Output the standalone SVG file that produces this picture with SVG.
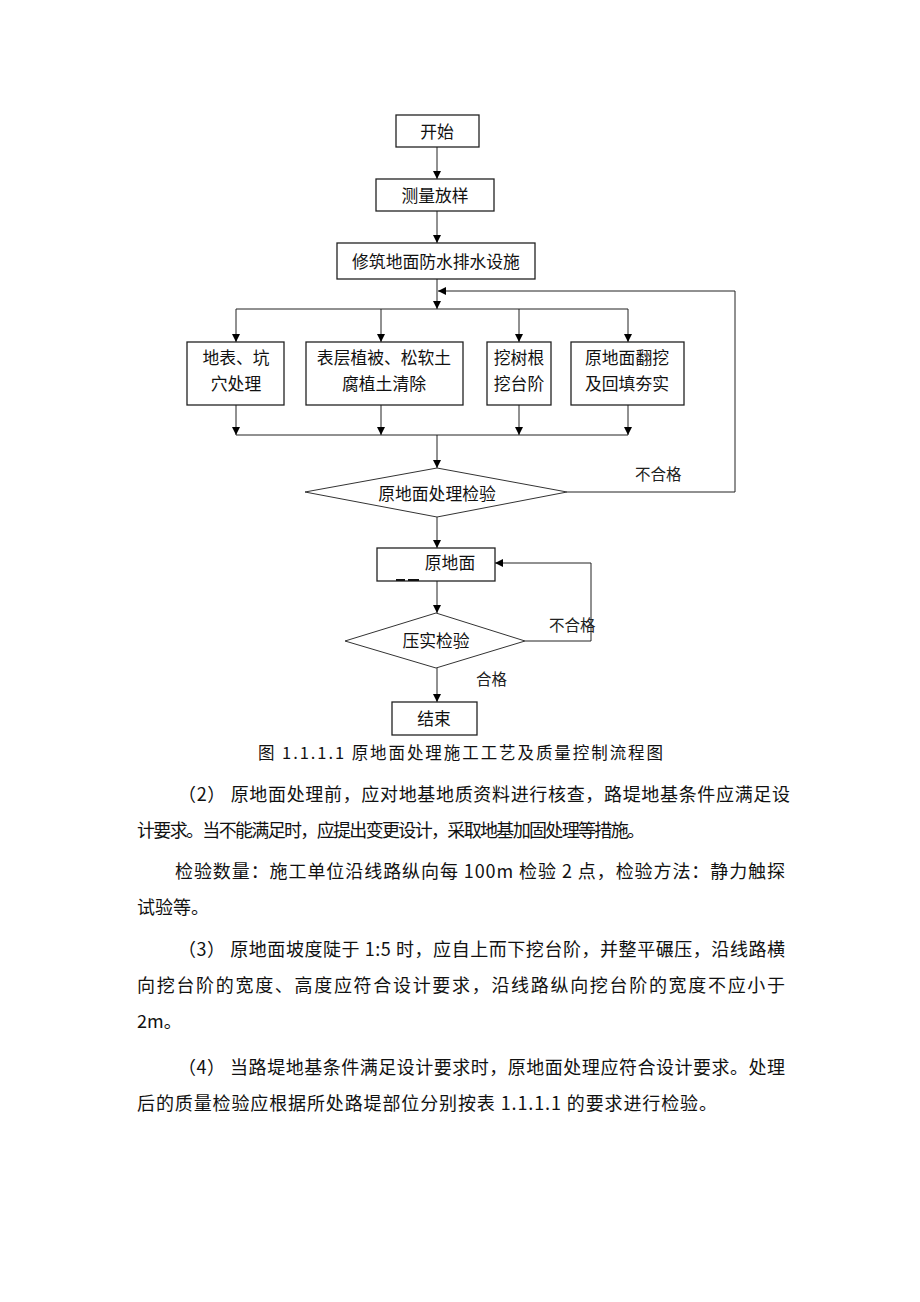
<svg xmlns="http://www.w3.org/2000/svg" width="920" height="1302" viewBox="0 0 920 1302">
<style>
.box{fill:#fff;stroke:#222;stroke-width:1.3}
.dia{fill:#fff;stroke:#333;stroke-width:1}
.ln{fill:none;stroke:#222;stroke-width:1}
.t{font-family:"Noto Sans CJK SC","Noto Sans",sans-serif;font-size:16.8px;fill:#111;text-anchor:middle;dominant-baseline:central}
.lb{font-family:"Noto Sans CJK SC","Noto Sans",sans-serif;font-size:15.5px;fill:#222;dominant-baseline:central}
.p{font-family:"Noto Sans CJK SC","Noto Sans",sans-serif;font-size:18px;fill:#111;dominant-baseline:central}
</style>
<defs>
<marker id="ah" viewBox="0 0 10 10" refX="10" refY="5" markerWidth="8" markerHeight="8" markerUnits="userSpaceOnUse" orient="auto">
<path d="M0,0 L10,5 L0,10 Z" fill="#000"/>
</marker>
</defs>
<rect width="920" height="1302" fill="#fff"/>
<g id="connectors">
<line class="ln" x1="437" y1="147" x2="437" y2="179" marker-end="url(#ah)"/>
<line class="ln" x1="437" y1="211" x2="437" y2="243" marker-end="url(#ah)"/>
<line class="ln" x1="437" y1="279" x2="437" y2="309" marker-end="url(#ah)"/>
<line class="ln" x1="236" y1="309" x2="628" y2="309"/>
<line class="ln" x1="236" y1="309" x2="236" y2="342" marker-end="url(#ah)"/>
<line class="ln" x1="381" y1="309" x2="381" y2="342" marker-end="url(#ah)"/>
<line class="ln" x1="519" y1="309" x2="519" y2="342" marker-end="url(#ah)"/>
<line class="ln" x1="628" y1="309" x2="628" y2="342" marker-end="url(#ah)"/>
<line class="ln" x1="236" y1="405" x2="236" y2="435" marker-end="url(#ah)"/>
<line class="ln" x1="381" y1="405" x2="381" y2="435" marker-end="url(#ah)"/>
<line class="ln" x1="519" y1="405" x2="519" y2="435" marker-end="url(#ah)"/>
<line class="ln" x1="628" y1="405" x2="628" y2="435" marker-end="url(#ah)"/>
<line class="ln" x1="236" y1="435" x2="628" y2="435"/>
<line class="ln" x1="437" y1="435" x2="437" y2="468" marker-end="url(#ah)"/>
<polyline class="ln" points="567,492 735,492 735,291 438,291" marker-end="url(#ah)"/>
<line class="ln" x1="437" y1="517" x2="437" y2="548" marker-end="url(#ah)"/>
<line class="ln" x1="437" y1="581" x2="437" y2="613" marker-end="url(#ah)"/>
<polyline class="ln" points="525,641 591,641 591,563 495,563" marker-end="url(#ah)"/>
<line class="ln" x1="437" y1="668" x2="437" y2="702" marker-end="url(#ah)"/>
</g>
<g id="n-start"><rect class="box" x="396" y="115" width="83" height="32"/><text class="t" x="437" y="131">开始</text></g>
<g id="n-survey"><rect class="box" x="376" y="179" width="118" height="32"/><text class="t" x="435" y="195">测量放样</text></g>
<g id="n-drain"><rect class="box" x="337" y="243" width="198" height="36"/><text class="t" x="436" y="261">修筑地面防水排水设施</text></g>
<g id="n-a"><rect class="box" x="187" y="342" width="97" height="63"/><text class="t" x="236" y="357">地表、坑</text><text class="t" x="236" y="383">穴处理</text></g>
<g id="n-b"><rect class="box" x="306" y="342" width="157" height="63"/><text class="t" x="384" y="357">表层植被、松软土</text><text class="t" x="384" y="383">腐植土清除</text></g>
<g id="n-c"><rect class="box" x="487" y="342" width="64" height="63"/><text class="t" x="519" y="357">挖树根</text><text class="t" x="519" y="383">挖台阶</text></g>
<g id="n-d"><rect class="box" x="571" y="342" width="113" height="63"/><text class="t" x="627" y="357">原地面翻挖</text><text class="t" x="627" y="383">及回填夯实</text></g>
<g id="n-check1"><polygon class="dia" points="305,492 437,468 567,492 437,517"/><text class="t" x="437" y="493">原地面处理检验</text></g>
<text class="lb" x="635" y="473">不合格</text>
<g id="n-ground"><rect class="box" x="377" y="548" width="118" height="33"/><text class="t" x="450" y="562">原地面</text><path d="M396,580 H405 M408,580 H419" stroke="#111" stroke-width="2"/></g>
<g id="n-check2"><polygon class="dia" points="345,641 436,613 525,641 436,668"/><text class="t" x="436" y="640">压实检验</text></g>
<text class="lb" x="549" y="624">不合格</text>
<text class="lb" x="476" y="678">合格</text>
<g id="n-end"><rect class="box" x="392" y="702" width="85" height="33"/><text class="t" x="434" y="718">结束</text></g>
<g id="text">
<text class="p" x="258" y="752" style="font-size:16.5px" textLength="405" lengthAdjust="spacing">图 1.1.1.1  原地面处理施工工艺及质量控制流程图</text>
<text class="p" x="178" y="793" textLength="612" lengthAdjust="spacing">（2）  原地面处理前，应对地基地质资料进行核查，路堤地基条件应满足设</text>
<text class="p" x="137" y="829" textLength="508" lengthAdjust="spacing">计要求。当不能满足时，应提出变更设计，采取地基加固处理等措施。</text>
<text class="p" x="175" y="870" textLength="610" lengthAdjust="spacing">检验数量：施工单位沿线路纵向每 100m 检验 2 点，检验方法：静力触探</text>
<text class="p" x="137" y="906">试验等。</text>
<text class="p" x="178" y="948" textLength="607" lengthAdjust="spacing">（3）  原地面坡度陡于 1:5 时，应自上而下挖台阶，并整平碾压，沿线路横</text>
<text class="p" x="137" y="984" textLength="648" lengthAdjust="spacing">向挖台阶的宽度、高度应符合设计要求，沿线路纵向挖台阶的宽度不应小于</text>
<text class="p" x="137" y="1020">2m。</text>
<text class="p" x="178" y="1066" textLength="607" lengthAdjust="spacing">（4）  当路堤地基条件满足设计要求时，原地面处理应符合设计要求。处理</text>
<text class="p" x="137" y="1102" textLength="580" lengthAdjust="spacing">后的质量检验应根据所处路堤部位分别按表 1.1.1.1 的要求进行检验。</text>
</g>
</svg>
